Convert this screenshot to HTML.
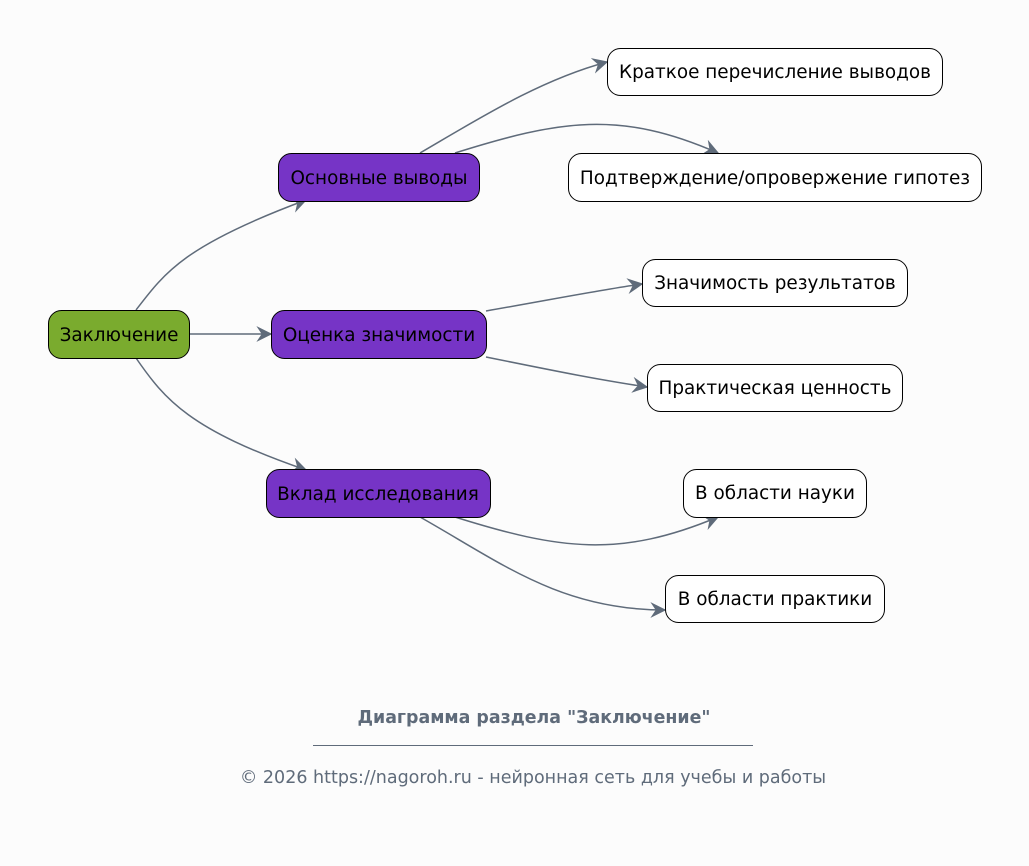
<!DOCTYPE html>
<html><head><meta charset="utf-8"><style>
html,body{margin:0;padding:0;background:#fcfcfc;}
svg text{font-family:"DejaVu Sans","Liberation Sans",sans-serif;}
</style></head><body>
<svg width="1029" height="861" viewBox="0 0 1029 861" xmlns="http://www.w3.org/2000/svg">
<defs>
<marker id="a" viewBox="0 0 12 12" refX="11" refY="6" markerWidth="16" markerHeight="16" orient="auto" markerUnits="userSpaceOnUse">
<path d="M0,0 L12,6 L0,12 L4,6 Z" fill="#5f6b7a"/>
</marker>
</defs>
<rect width="1029" height="861" fill="#fcfcfc"/>
<g fill="none" stroke="#5f6b7a" stroke-width="1.5" marker-end="url(#a)">
<path d="M136,310 C165,272 185,245 306,200"/>
<path d="M189,334 L271,334"/>
<path d="M136,358 C165,400 190,430 306,470"/>
<path d="M420,153 C480,118 540,80 607,62"/>
<path d="M455,153 C560,120 620,110 718,153"/>
<path d="M486,311 C560,298 600,290 642,284"/>
<path d="M486,357 C560,372 600,380 647,387"/>
<path d="M455,517 C560,550 620,558 718,517"/>
<path d="M420,517 C500,562 560,610 665,610"/>
</g>
<g stroke="#000" stroke-width="1">
<rect x="48.5" y="310.5" width="141" height="48" rx="13" fill="#7aab2e"/>
<rect x="278.5" y="153.5" width="201" height="48" rx="13" fill="#7634c6"/>
<rect x="271.5" y="310.5" width="215" height="48" rx="13" fill="#7634c6"/>
<rect x="266.5" y="469.5" width="224" height="48" rx="13" fill="#7634c6"/>
<rect x="607.5" y="48.5" width="335" height="47" rx="13" fill="#fff"/>
<rect x="568.5" y="153.5" width="413" height="48" rx="13" fill="#fff"/>
<rect x="642.5" y="259.5" width="265" height="47" rx="13" fill="#fff"/>
<rect x="647.5" y="364.5" width="255" height="47" rx="13" fill="#fff"/>
<rect x="683.5" y="469.5" width="183" height="48" rx="13" fill="#fff"/>
<rect x="665.5" y="575.5" width="219" height="47" rx="13" fill="#fff"/>
</g>
<g font-size="18.4" fill="#000" text-anchor="middle">
<text x="119" y="341">Заключение</text>
<text x="379" y="184">Основные выводы</text>
<text x="379" y="341">Оценка значимости</text>
<text x="378" y="500">Вклад исследования</text>
<text x="775" y="78">Краткое перечисление выводов</text>
<text x="775" y="184">Подтверждение/опровержение гипотез</text>
<text x="775" y="289">Значимость результатов</text>
<text x="775" y="394">Практическая ценность</text>
<text x="775" y="499">В области науки</text>
<text x="775" y="605">В области практики</text>
</g>
<text x="534" y="723" font-size="17.4" font-weight="bold" fill="#5f6b7a" text-anchor="middle">Диаграмма раздела "Заключение"</text>
<line x1="313" y1="745.5" x2="753" y2="745.5" stroke="#5f6b7a" stroke-width="1"/>
<text x="533" y="783" font-size="17.5" fill="#5f6b7a" text-anchor="middle">© 2026 https://nagoroh.ru - нейронная сеть для учебы и работы</text>
</svg>
</body></html>
